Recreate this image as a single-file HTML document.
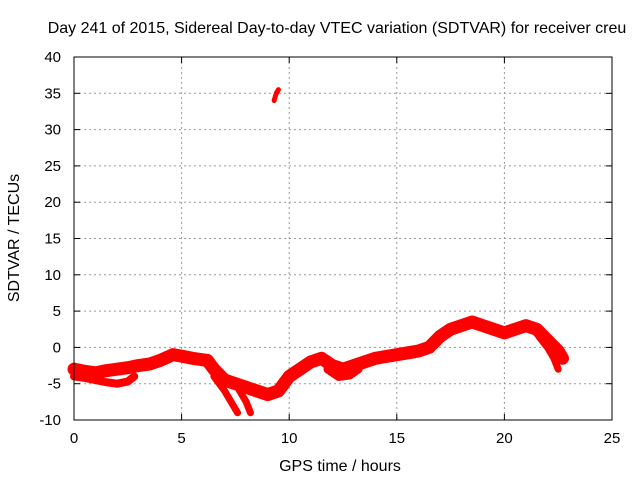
<!DOCTYPE html>
<html><head><meta charset="utf-8"><style>
body{margin:0;background:#fff}
svg text{font-family:"Liberation Sans",sans-serif;font-size:15px;fill:#000}
svg text.big{font-size:16px}
</style></head><body>
<svg width="640" height="480">
<rect width="640" height="480" fill="#fff"/>
<g id="grid"></g>
<g id="series"></g>
<rect x="74" y="57" width="538" height="363" fill="none" stroke="#000" stroke-width="1"/>
<g id="ticks"></g>
<text class="big" x="337" y="33" text-anchor="middle">Day 241 of 2015, Sidereal Day-to-day VTEC variation (SDTVAR) for receiver creu</text>
<text class="big" x="340" y="471" text-anchor="middle">GPS time / hours</text>
<text class="big" x="19" y="238" text-anchor="middle" transform="rotate(-90 19 238)">SDTVAR / TECUs</text>
</svg>
<script>
const xTicks=[0,5,10,15,20,25];
const yTicks=[-10,-5,0,5,10,15,20,25,30,35,40];
const mainX=[0,0.5,1,1.5,2,2.5,3,3.5,4,4.6,5,5.5,6.2,6.5,7,7.5,8,8.5,9,9.5,10,10.5,11,11.5,12,12.5,13,13.5,14,15,16,16.5,17,17.5,18,18.5,19,19.5,20,20.5,21,21.5,22,22.5,22.7];
const mainY=[-3,-3.3,-3.5,-3.2,-3,-2.8,-2.5,-2.3,-1.8,-1,-1.2,-1.5,-1.8,-3,-4.5,-5,-5.5,-6,-6.5,-6,-4,-3,-2,-1.5,-2.5,-3,-2.5,-2,-1.5,-1,-0.5,0,1.5,2.5,3,3.5,3,2.5,2,2.5,3,2.5,1,-0.5,-1.5];
const lowX=[0,0.5,1,1.5,2,2.5,2.8];
const lowY=[-4,-4.2,-4.5,-4.8,-5,-4.7,-4];
const dip1X=[6.5,7,7.3,7.6];
const dip1Y=[-4,-6,-7.5,-9];
const dip2X=[7.5,7.8,8,8.2];
const dip2Y=[-5,-6.5,-7.5,-9];
const tailX=[21.6,22,22.3,22.5];
const tailY=[1.5,0,-1.5,-3];
const bumpX=[11.8,12.3,12.8,13.2];
const bumpY=[-3,-4,-3.8,-3];
const outX=[9.3,9.4,9.5];
const outY=[34,35,35.5];
const NS="http://www.w3.org/2000/svg";
const X=v=>74+v*538/25, Y=v=>420-(v+10)*363/50;
const grid=document.getElementById('grid'),ticks=document.getElementById('ticks'),ser=document.getElementById('series');
function mk(tag,attrs,parent){const e=document.createElementNS(NS,tag);for(const k in attrs)e.setAttribute(k,attrs[k]);parent.appendChild(e);return e;}
xTicks.forEach(t=>{const x=X(t);
 if(t>0&&t<25){const l=mk('line',{x1:x,x2:x,y1:57,y2:420,stroke:'#999','stroke-dasharray':'2,3'},grid);
 
 }
 mk('line',{x1:x,x2:x,y1:420,y2:414,stroke:'#000'},ticks);mk('line',{x1:x,x2:x,y1:57,y2:63,stroke:'#000'},ticks);
 const tx=mk('text',{x:x,y:443,'text-anchor':'middle'},ticks);tx.textContent=t;
 
 });
yTicks.forEach(t=>{const y=Y(t);
 if(t>-10&&t<40){const l=mk('line',{x1:74,x2:612,y1:y,y2:y,stroke:'#999','stroke-dasharray':'2,3'},grid);
 
 }
 mk('line',{x1:74,x2:80,y1:y,y2:y,stroke:'#000'},ticks);mk('line',{x1:606,x2:612,y1:y,y2:y,stroke:'#000'},ticks);
 const tx=mk('text',{x:61,y:y+5,'text-anchor':'end'},ticks);tx.textContent=t;
 
 });
function track(xs,ys,w,name){const p=mk('polyline',{points:xs.map((v,i)=>X(v)+','+Y(ys[i])).join(' '),fill:'none',stroke:'#f00','stroke-width':w,'stroke-linejoin':'round','stroke-linecap':'round'},ser);
 
 }
track(mainX,mainY,13,'main-trace');
track(lowX,lowY,8,'lower-trace');
track(dip1X,dip1Y,7,'dip-trace-1');
track(dip2X,dip2Y,7,'dip-trace-2');
track(tailX,tailY,7,'tail-trace');
track(bumpX,bumpY,9,'bump-trace');
track(outX,outY,5,'outlier-trace');
</script>
</body></html>
